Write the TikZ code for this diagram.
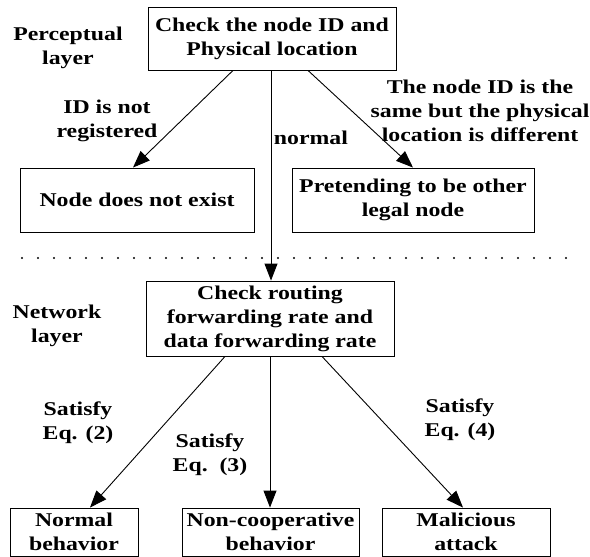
\documentclass[tikz,border=0pt]{standalone}
\usepackage{fontspec}
\setmainfont[FakeStretch=1.22]{Liberation Serif}
\usepackage{tikz}
\usetikzlibrary{arrows.meta,positioning,calc}

\begin{document}
\begin{tikzpicture}[
  x=1pt, y=-1pt,
  every node/.style={font=\fontsize{19.5}{24}\selectfont\bfseries, align=center, inner sep=0pt},
  box/.style={rectangle, draw, line width=0.9pt, text centered},
  lbl/.style={rectangle},
  arrow/.style={-{Triangle[length=17pt,width=13pt]}, line width=0.9pt}
]
\useasboundingbox (0,0) rectangle (590,557);

% perceptual layer
\node[lbl] (perc) at (68,48) {Perceptual\\layer};
\node[box, minimum width=248pt, minimum height=63pt] (chk1) at (272,38.5) {Check the node ID and\\Physical location};
\node[box, minimum width=234pt, minimum height=64pt] (noexist) at (137,200) {Node does not exist};
\node[box, minimum width=242pt, minimum height=64pt] (pretend) at (413,200) {Pretending to be other\\legal node};

\node[lbl] (notreg) at (107,121) {ID is not\\registered};
\node[lbl] (normal) at (311,138) {normal};
\node[lbl] (samediff) at (480,111) {The node ID is the\\same but the physical\\location is different};

% separator
\coordinate (sepL) at (22,258);
\coordinate (sepR) at (580,258);
\draw[line width=2.2pt, line cap=round, dash pattern=on 0pt off 16pt] (sepL) -- (sepR);

% network layer
\node[lbl] (netw) at (57,326) {Network\\layer};
\node[box, minimum width=248pt, minimum height=75pt] (chk2) at (270,318.5) {Check routing\\forwarding rate and\\data forwarding rate};
\node[box, minimum width=128pt, minimum height=48pt] (nbeh) at (74,532) {Normal\\behavior};
\node[box, minimum width=177pt, minimum height=48pt] (ncoop) at (270.5,532) {Non-cooperative\\behavior};
\node[box, minimum width=168pt, minimum height=48pt] (malic) at (466,532) {Malicious\\attack};

\node[lbl] (eq2) at (78,423) {Satisfy\\Eq. (2)};
\node[lbl] (eq3) at (210,455) {Satisfy\\Eq.~~(3)};
\node[lbl] (eq4) at (460,420) {Satisfy\\Eq. (4)};

\draw[arrow] ([xshift=-39pt]chk1.south) -- ([xshift=-4pt]noexist.north);
\draw[arrow] ([xshift=36pt]chk1.south) -- (pretend.north);
\draw[arrow] ([xshift=-1pt]chk1.south) -- ([xshift=-1pt]chk1.south |- chk2.north);
\draw[arrow] ([xshift=-45pt]chk2.south) -- ([xshift=16pt]nbeh.north);
\draw[arrow] (chk2.south) -- (chk2.south |- ncoop.north);
\draw[arrow] ([xshift=52pt]chk2.south) -- ([xshift=-3pt]malic.north);
\end{tikzpicture}
\end{document}
